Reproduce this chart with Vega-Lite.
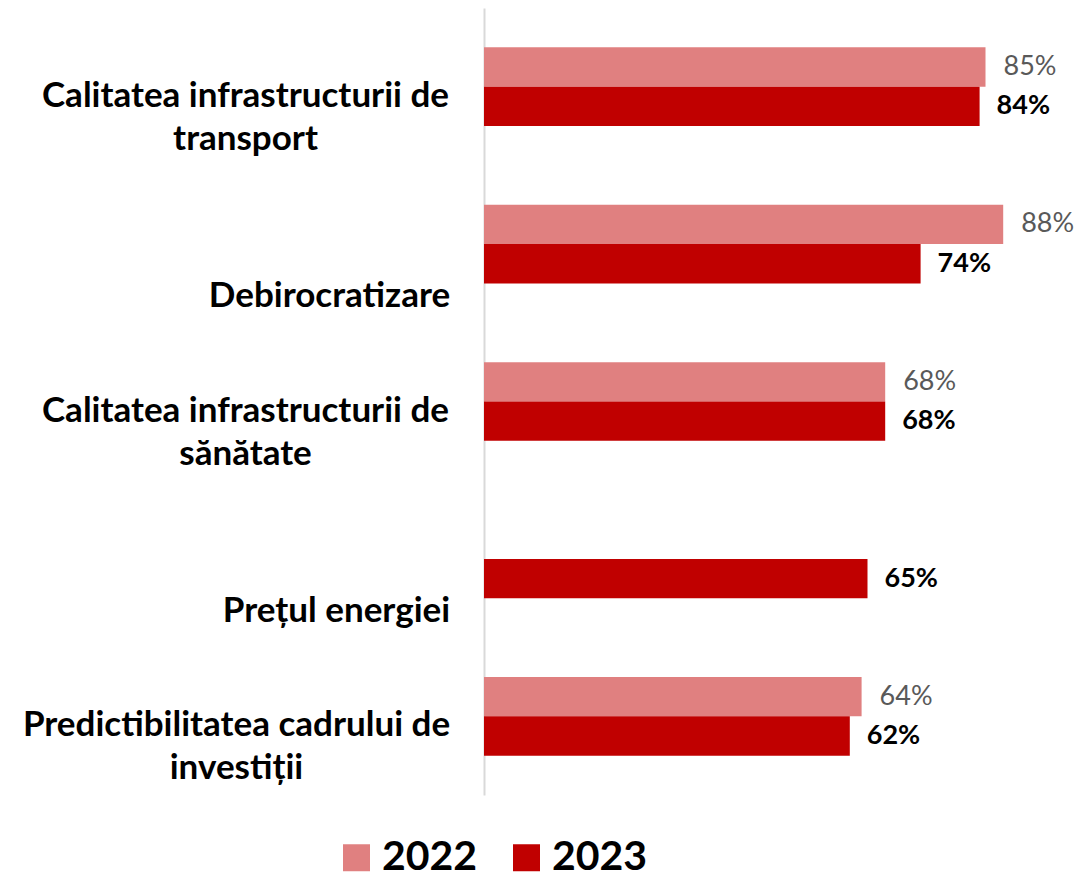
{
  "$schema": "https://vega.github.io/schema/vega-lite/v6.json",
  "width": 590,
  "height": 787,
  "autosize": {"type": "none"},
  "padding": {"left": 484, "top": 8, "right": 12, "bottom": 84},
  "background": "white",
  "config": {"view": {"stroke": null}},
  "data": {
    "values": [
      {"cat": "Calitatea infrastructurii de transport", "year": "2022", "value": 0.85},
      {"cat": "Calitatea infrastructurii de transport", "year": "2023", "value": 0.84},
      {"cat": "Debirocratizare", "year": "2022", "value": 0.88},
      {"cat": "Debirocratizare", "year": "2023", "value": 0.74},
      {"cat": "Calitatea infrastructurii de sănătate", "year": "2022", "value": 0.68},
      {"cat": "Calitatea infrastructurii de sănătate", "year": "2023", "value": 0.68},
      {"cat": "Prețul energiei", "year": "2023", "value": 0.65},
      {"cat": "Predictibilitatea cadrului de investiții", "year": "2022", "value": 0.64},
      {"cat": "Predictibilitatea cadrului de investiții", "year": "2023", "value": 0.62}
    ]
  },
  "encoding": {
    "y": {
      "field": "cat",
      "type": "nominal",
      "sort": ["Calitatea infrastructurii de transport", "Debirocratizare", "Calitatea infrastructurii de sănătate", "Prețul energiei", "Predictibilitatea cadrului de investiții"],
      "scale": {"paddingInner": 0.5, "paddingOuter": 0.25},
      "title": null,
      "axis": {
        "domainColor": "#D9D9D9",
        "domainWidth": 2,
        "ticks": false,
        "grid": false,
        "labelFont": "Lato",
        "labelFontWeight": "bold",
        "labelFontSize": 35,
        "labelColor": "#000000",
        "labelLimit": 0,
        "labelAlign": "center",
        "labelPadding": {
          "condition": [
            {"test": "datum.value == 'Debirocratizare'", "value": 155},
            {"test": "datum.value == 'Prețul energiei'", "value": 148},
            {"test": "datum.value == 'Predictibilitatea cadrului de investiții'", "value": 248}
          ],
          "value": 239
        },
        "labelLineHeight": 43,
        "labelBaseline": "bottom",
        "labelOffset": 27,
        "labelExpr": "length(datum.label) > 20 ? [substring(datum.label, 0, lastindexof(datum.label, ' ')), substring(datum.label, lastindexof(datum.label, ' ') + 1)] : [' ', datum.label]"
      }
    },
    "yOffset": {"field": "year", "type": "nominal", "sort": ["2022", "2023"]},
    "x": {"field": "value", "type": "quantitative", "scale": {"domain": [0, 1], "nice": false}, "axis": null}
  },
  "layer": [
    {
      "mark": {"type": "bar"},
      "encoding": {
        "color": {
          "field": "year",
          "type": "nominal",
          "scale": {"domain": ["2022", "2023"], "range": ["#E08080", "#C00000"]},
          "legend": {
            "title": null,
            "orient": "none",
            "direction": "horizontal",
            "legendX": -148,
            "legendY": 829,
            "symbolType": "square",
            "symbolSize": 729,
            "symbolStrokeWidth": 0,
            "labelFont": "Lato",
            "labelFontWeight": "bold",
            "labelFontSize": 41,
            "labelColor": "#000000",
            "labelOffset": 5,
            "columnPadding": 28
          }
        }
      }
    },
    {
      "transform": [{"filter": "datum.year == '2022'"}],
      "mark": {"type": "text", "align": "left", "baseline": "middle", "dx": 18, "font": "Lato", "fontSize": 27, "color": "#595959"},
      "encoding": {"text": {"field": "value", "type": "quantitative", "format": ".0%"}}
    },
    {
      "transform": [{"filter": "datum.year == '2023'"}],
      "mark": {"type": "text", "align": "left", "baseline": "middle", "dx": 17, "font": "Lato", "fontSize": 27, "fontWeight": "bold", "color": "#000000"},
      "encoding": {"text": {"field": "value", "type": "quantitative", "format": ".0%"}}
    }
  ]
}
